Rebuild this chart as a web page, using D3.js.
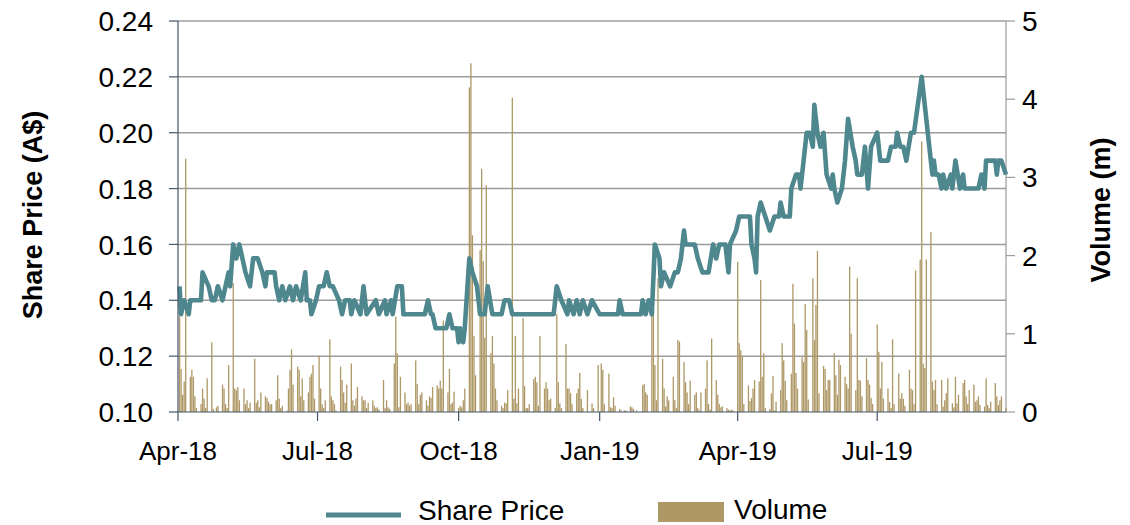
<!DOCTYPE html>
<html>
<head>
<meta charset="utf-8">
<script src="https://cdn.jsdelivr.net/npm/d3@7"></script>
<style>
  body { margin: 0; background: #fff; }
  svg { display: block; font-family: "Liberation Sans", Arial, sans-serif; }
</style>
</head>
<body>
<svg width="1130" height="525"></svg>
<script>
var priceTicks = [0.10, 0.12, 0.14, 0.16, 0.18, 0.20, 0.22, 0.24];
var volumeTicks = [0, 1, 2, 3, 4, 5];
var monthTicks = ["2018-04-01", "2018-07-01", "2018-10-01", "2019-01-01", "2019-04-01", "2019-07-01"];

// share price (A$)
var price = [
  ["2018-04-02",0.145],["2018-04-03",0.135],["2018-04-05",0.14],["2018-04-08",0.135],["2018-04-09",0.14],
  ["2018-04-16",0.14],["2018-04-17",0.15],["2018-04-21",0.145],["2018-04-23",0.14],["2018-04-25",0.14],
  ["2018-04-27",0.145],["2018-04-30",0.14],["2018-05-02",0.145],["2018-05-04",0.15],["2018-05-05",0.145],
  ["2018-05-07",0.16],["2018-05-09",0.155],["2018-05-11",0.16],["2018-05-15",0.15],["2018-05-18",0.145],
  ["2018-05-20",0.155],["2018-05-23",0.155],["2018-05-26",0.15],["2018-05-28",0.145],["2018-05-29",0.15],
  ["2018-06-03",0.15],["2018-06-04",0.145],["2018-06-06",0.14],["2018-06-08",0.145],["2018-06-10",0.14],
  ["2018-06-13",0.145],["2018-06-15",0.14],["2018-06-17",0.145],["2018-06-20",0.14],["2018-06-23",0.15],
  ["2018-06-24",0.14],["2018-06-26",0.14],["2018-06-27",0.135],["2018-06-30",0.14],["2018-07-02",0.145],
  ["2018-07-05",0.145],["2018-07-07",0.15],["2018-07-09",0.145],["2018-07-11",0.145],["2018-07-15",0.14],
  ["2018-07-17",0.135],["2018-07-19",0.14],["2018-07-22",0.14],["2018-07-23",0.135],["2018-07-25",0.14],
  ["2018-07-29",0.135],["2018-07-31",0.145],["2018-08-02",0.135],["2018-08-08",0.14],["2018-08-10",0.135],
  ["2018-08-14",0.14],["2018-08-15",0.135],["2018-08-18",0.14],["2018-08-19",0.135],["2018-08-22",0.145],
  ["2018-08-25",0.145],["2018-08-26",0.135],["2018-09-09",0.135],["2018-09-11",0.14],["2018-09-13",0.135],
  ["2018-09-14",0.135],["2018-09-16",0.13],["2018-09-23",0.13],["2018-09-25",0.135],["2018-09-27",0.13],
  ["2018-09-30",0.13],["2018-10-01",0.125],["2018-10-02",0.13],["2018-10-04",0.125],["2018-10-05",0.13],
  ["2018-10-08",0.155],["2018-10-10",0.15],["2018-10-13",0.145],["2018-10-15",0.135],["2018-10-18",0.135],
  ["2018-10-20",0.145],["2018-10-23",0.135],["2018-10-29",0.135],["2018-10-31",0.14],["2018-11-03",0.14],
  ["2018-11-05",0.135],["2018-12-02",0.135],["2018-12-04",0.145],["2018-12-07",0.14],["2018-12-11",0.135],
  ["2018-12-12",0.14],["2018-12-15",0.135],["2018-12-17",0.14],["2018-12-19",0.135],["2018-12-21",0.14],
  ["2018-12-24",0.135],["2018-12-27",0.14],["2019-01-01",0.135],["2019-01-13",0.135],["2019-01-14",0.14],
  ["2019-01-16",0.135],["2019-01-28",0.135],["2019-01-29",0.14],["2019-01-31",0.135],["2019-02-02",0.14],
  ["2019-02-04",0.135],["2019-02-06",0.16],["2019-02-09",0.155],["2019-02-10",0.145],["2019-02-12",0.15],
  ["2019-02-16",0.145],["2019-02-19",0.15],["2019-02-21",0.15],["2019-02-23",0.155],["2019-02-25",0.165],
  ["2019-02-26",0.16],["2019-03-04",0.16],["2019-03-06",0.155],["2019-03-09",0.15],["2019-03-13",0.15],
  ["2019-03-16",0.16],["2019-03-18",0.155],["2019-03-20",0.16],["2019-03-24",0.16],["2019-03-26",0.15],
  ["2019-03-27",0.16],["2019-03-31",0.165],["2019-04-02",0.17],["2019-04-09",0.17],["2019-04-10",0.16],
  ["2019-04-12",0.155],["2019-04-13",0.15],["2019-04-14",0.17],["2019-04-16",0.175],["2019-04-19",0.17],
  ["2019-04-22",0.165],["2019-04-25",0.17],["2019-04-28",0.17],["2019-04-29",0.175],["2019-05-01",0.17],
  ["2019-05-05",0.17],["2019-05-06",0.18],["2019-05-09",0.185],["2019-05-11",0.185],["2019-05-12",0.18],
  ["2019-05-14",0.19],["2019-05-16",0.20],["2019-05-18",0.20],["2019-05-20",0.195],["2019-05-21",0.21],
  ["2019-05-23",0.20],["2019-05-25",0.195],["2019-05-27",0.20],["2019-05-29",0.185],["2019-06-01",0.18],
  ["2019-06-02",0.185],["2019-06-03",0.18],["2019-06-05",0.175],["2019-06-08",0.18],["2019-06-10",0.19],
  ["2019-06-12",0.205],["2019-06-15",0.195],["2019-06-17",0.19],["2019-06-18",0.185],["2019-06-21",0.185],
  ["2019-06-22",0.19],["2019-06-23",0.195],["2019-06-25",0.18],["2019-06-27",0.195],["2019-07-01",0.20],
  ["2019-07-03",0.19],["2019-07-08",0.19],["2019-07-10",0.195],["2019-07-13",0.195],["2019-07-14",0.20],
  ["2019-07-16",0.195],["2019-07-18",0.195],["2019-07-20",0.19],["2019-07-23",0.20],["2019-07-25",0.20],
  ["2019-07-30",0.22],["2019-08-01",0.21],["2019-08-05",0.19],["2019-08-06",0.185],["2019-08-07",0.19],
  ["2019-08-08",0.185],["2019-08-10",0.185],["2019-08-12",0.18],["2019-08-13",0.185],["2019-08-15",0.18],
  ["2019-08-18",0.185],["2019-08-19",0.18],["2019-08-21",0.19],["2019-08-24",0.18],["2019-08-26",0.185],
  ["2019-08-27",0.18],["2019-09-05",0.18],["2019-09-07",0.185],["2019-09-09",0.18],["2019-09-10",0.19],
  ["2019-09-16",0.19],["2019-09-17",0.185],["2019-09-18",0.19],["2019-09-20",0.19],["2019-09-23",0.185]
];

// daily volume (m), one list per month, one value per weekday
var volumeMonths = ["2018-04","2018-05","2018-06","2018-07","2018-08","2018-09","2018-10","2018-11","2018-12",
  "2019-01","2019-02","2019-03","2019-04","2019-05","2019-06","2019-07","2019-08","2019-09"];
var volume = [
  [1.22,0.55,0.22,0.39,3.24,0.45,0.54,0.45,0.2,0.05,0.1,0.3,0.17,0.05,0.43,0.89,0.04,0,0.06,0.08,0.35],
  [0.3,0.1,0.05,0.6,1.65,0.3,0.28,0.32,0.15,0.3,0.1,0.15,0.05,0.12,0.68,0.12,0.15,0.06,0.25,0.2,0.18,0.13,0.1],
  [0.1,0.15,0.47,0.17,0.05,0.08,0.02,0.3,0.54,0.8,0.35,0.58,0.54,0.2,0.43,0.15,0.25,0.45,0.49,0.6,0.17],
  [0.72,0.3,0.1,0.05,0.15,0.93,0.2,0.15,0.1,0.02,0.58,0.41,0.25,0.12,0.35,0.62,0.15,0.08,0.17,0.32,0.2,0.15],
  [0.15,0.05,0.12,0.15,0.08,0.05,0.06,0.03,0.41,0.05,0.15,0.06,0.04,0.62,1.22,0.75,0.06,0.45,0.25,0.1,0.12,0.08,0.1],
  [0.66,0.36,0.1,0.22,0.25,0.15,0.08,0.2,0.18,0.32,0.34,0.3,0.4,0.3,1.17,0.25,0.55,0.1,0.12,0.26],
  [0.05,0.08,0.06,0.15,0.3,4.15,4.46,2.26,0.97,0.47,2.07,3.11,1.93,0.95,2.9,0.75,0.97,0.62,0.3,0.15,0.08,0.05,0.12],
  [0.11,0.28,4.02,0.17,0.97,0.11,0.3,1.2,0.33,0.05,0.05,0.1,0.42,0.45,0.38,0.08,0.97,0.3,0.38,0.3,0.15,0.17],
  [0.05,1.25,0.38,0.11,0.05,0.87,0.3,0.3,0.24,0.1,0.24,0.3,0.5,0.17,0.05,0.28,0,0,0.11,0.05,0.6],
  [0,0.62,0.54,0.1,0.49,0.06,0.05,0.19,0.08,0.04,0.02,0,0.02,0.02,0.07,0.06,0.04,0,0.02,0,0.34,0.36,0.25],
  [0.22,1.67,2.15,0.6,0.15,1.71,0.68,0.3,0.07,0.2,0.15,0.45,0.15,0.05,0.92,0.9,0.64,0.38,0.25,0.1],
  [0.4,0.22,0.25,0.05,0.02,0.25,0.3,0.66,0.1,0.03,0.94,0.41,0.22,0.1,0.06,0.07,0.05,0.03,0.02,0.03,0.02],
  [1.92,0.88,0.79,0.72,0.1,0.34,0.14,0.18,0.3,0.41,0.39,1.69,0.45,0.75,0.05,0.04,0.24,0.46,0.02,0.13,0.28,0.88],
  [0.66,0.4,0.15,0.49,1.64,1.13,0.5,0.3,0.7,0.64,1.38,1.05,0.16,1.71,0.92,1.37,2.06,0.24,0.59,0.55,0.28,0.41,0.41],
  [0.75,0.47,0.22,0.67,0.6,0.45,0.36,0.3,1.86,1.0,0.28,1.71,0.41,0.4,0.2,0.69,0.41,0.35,0.18,0.1],
  [1.12,0.77,0.3,0.64,0.17,0.3,0.13,0.05,0.93,0.1,0.49,0.17,0.24,0.17,0.08,0.54,0.3,0.28,0.1,1.81,1.95,3.46,0.62],
  [0.56,1.95,2.3,0.39,0.28,0.41,0.1,0.41,0.07,0.15,0.24,0.43,0.11,0.06,0.45,0.11,0.22,0.37,0.41,0.2,0.1,0.28],
  [0.35,0.13,0.15,0.2,0.09,0.07,0.43,0.09,0.05,0.13,0.37,0.2,0.09,0.15,0.2,0.05]
];

var parse = d3.timeParse("%Y-%m-%d");
var startDate = parse("2018-04-01"), endDate = parse("2019-09-23");

var plotLeft = 178, plotRight = 1006, plotTop = 21, plotBottom = 412;

var svg = d3.select("svg");

var x = d3.scaleTime().domain([startDate, endDate]).range([plotLeft, plotRight]);
var yPrice = d3.scaleLinear().domain([0.10, 0.24]).range([plotBottom, plotTop]);
var yVol = d3.scaleLinear().domain([0, 5]).range([plotBottom, plotTop]);

// weekdays grouped by month, matched to the volume lists
var monthKey = d3.timeFormat("%Y-%m");
var weekdays = d3.timeDay.range(parse("2018-04-02"), d3.timeDay.offset(endDate, 1))
  .filter(function(d) { return d.getDay() != 0 && d.getDay() != 6; });
var volData = [];
volumeMonths.forEach(function(m, i) {
  var days = weekdays.filter(function(d) { return monthKey(d) == m; });
  days.forEach(function(d, j) {
    if (volume[i][j] != null) volData.push({ date: d, v: volume[i][j] });
  });
});

// gridlines
svg.append("g")
  .selectAll("line")
  .data(priceTicks.slice(1))
  .enter().append("line")
  .attr("x1", plotLeft).attr("x2", plotRight)
  .attr("y1", function(d) { return yPrice(d); })
  .attr("y2", function(d) { return yPrice(d); })
  .attr("stroke", "#9c9c9c")
  .attr("stroke-width", 1.5);

// right frame line
svg.append("line")
  .attr("x1", plotRight).attr("x2", plotRight).attr("y1", plotTop).attr("y2", plotBottom)
  .attr("stroke", "#9c9c9c").attr("stroke-width", 1.2);

// volume bars
svg.append("g")
  .selectAll("rect")
  .data(volData)
  .enter().append("rect")
  .attr("x", function(d) { return x(d.date) - 0.6; })
  .attr("width", 1.3)
  .attr("y", function(d) { return yVol(d.v); })
  .attr("height", function(d) { return plotBottom - yVol(d.v); })
  .attr("fill", "#ad9866");

// share price line
var line = d3.line()
  .x(function(d) { return x(parse(d[0])); })
  .y(function(d) { return yPrice(d[1]); });

svg.append("path")
  .datum(price)
  .attr("d", line)
  .attr("fill", "none")
  .attr("stroke", "#4f878f")
  .attr("stroke-width", 4.6)
  .attr("stroke-linejoin", "round");

// left axis
var axisColor = "#44546a";
svg.append("line")
  .attr("x1", plotLeft).attr("x2", plotLeft).attr("y1", plotTop).attr("y2", plotBottom)
  .attr("stroke", axisColor).attr("stroke-width", 1.2);
svg.append("g")
  .selectAll("line")
  .data(priceTicks)
  .enter().append("line")
  .attr("x1", plotLeft - 9).attr("x2", plotLeft)
  .attr("y1", function(d) { return yPrice(d); })
  .attr("y2", function(d) { return yPrice(d); })
  .attr("stroke", axisColor).attr("stroke-width", 1.2);
svg.append("g")
  .selectAll("text")
  .data(priceTicks)
  .enter().append("text")
  .attr("x", 153)
  .attr("y", function(d) { return yPrice(d); })
  .attr("dy", "0.36em")
  .attr("text-anchor", "end")
  .attr("font-size", 28)
  .attr("fill", "#000")
  .text(function(d) { return d3.format(".2f")(d); });

// bottom axis
svg.append("line")
  .attr("x1", plotLeft).attr("x2", plotRight).attr("y1", plotBottom).attr("y2", plotBottom)
  .attr("stroke", axisColor).attr("stroke-width", 1.2);
var monthDates = monthTicks.map(parse);
svg.append("g")
  .selectAll("line")
  .data(monthDates)
  .enter().append("line")
  .attr("x1", function(d) { return x(d); })
  .attr("x2", function(d) { return x(d); })
  .attr("y1", plotBottom).attr("y2", plotBottom + 9)
  .attr("stroke", axisColor).attr("stroke-width", 1.2);
svg.append("g")
  .selectAll("text")
  .data(monthDates)
  .enter().append("text")
  .attr("x", function(d) { return x(d); })
  .attr("y", 460)
  .attr("text-anchor", "middle")
  .attr("font-size", 26)
  .text(function(d) { return d3.timeFormat("%b-%y")(d); });

// right axis
svg.append("g")
  .selectAll("line")
  .data(volumeTicks)
  .enter().append("line")
  .attr("x1", plotRight).attr("x2", plotRight + 9)
  .attr("y1", function(d) { return yVol(d); })
  .attr("y2", function(d) { return yVol(d); })
  .attr("stroke", "#9c9c9c").attr("stroke-width", 1.2);
svg.append("g")
  .selectAll("text")
  .data(volumeTicks)
  .enter().append("text")
  .attr("x", 1022)
  .attr("y", function(d) { return yVol(d); })
  .attr("dy", "0.36em")
  .attr("font-size", 28)
  .text(function(d) { return d; });

// axis titles
svg.append("text")
  .attr("transform", "translate(42,215) rotate(-90)")
  .attr("text-anchor", "middle")
  .attr("font-size", 27)
  .attr("font-weight", "bold")
  .text("Share Price (A$)");
svg.append("text")
  .attr("transform", "translate(1110,210) rotate(-90)")
  .attr("text-anchor", "middle")
  .attr("font-size", 27)
  .attr("font-weight", "bold")
  .text("Volume (m)");

// legend
svg.append("line")
  .attr("x1", 326).attr("x2", 401).attr("y1", 515).attr("y2", 515)
  .attr("stroke", "#4f878f").attr("stroke-width", 5);
svg.append("text")
  .attr("x", 418).attr("y", 520)
  .attr("font-size", 28)
  .text("Share Price");
svg.append("rect")
  .attr("x", 658).attr("y", 502).attr("width", 66).attr("height", 20)
  .attr("fill", "#ad9866");
svg.append("text")
  .attr("x", 734).attr("y", 519)
  .attr("font-size", 28)
  .text("Volume");
</script>
</body>
</html>
